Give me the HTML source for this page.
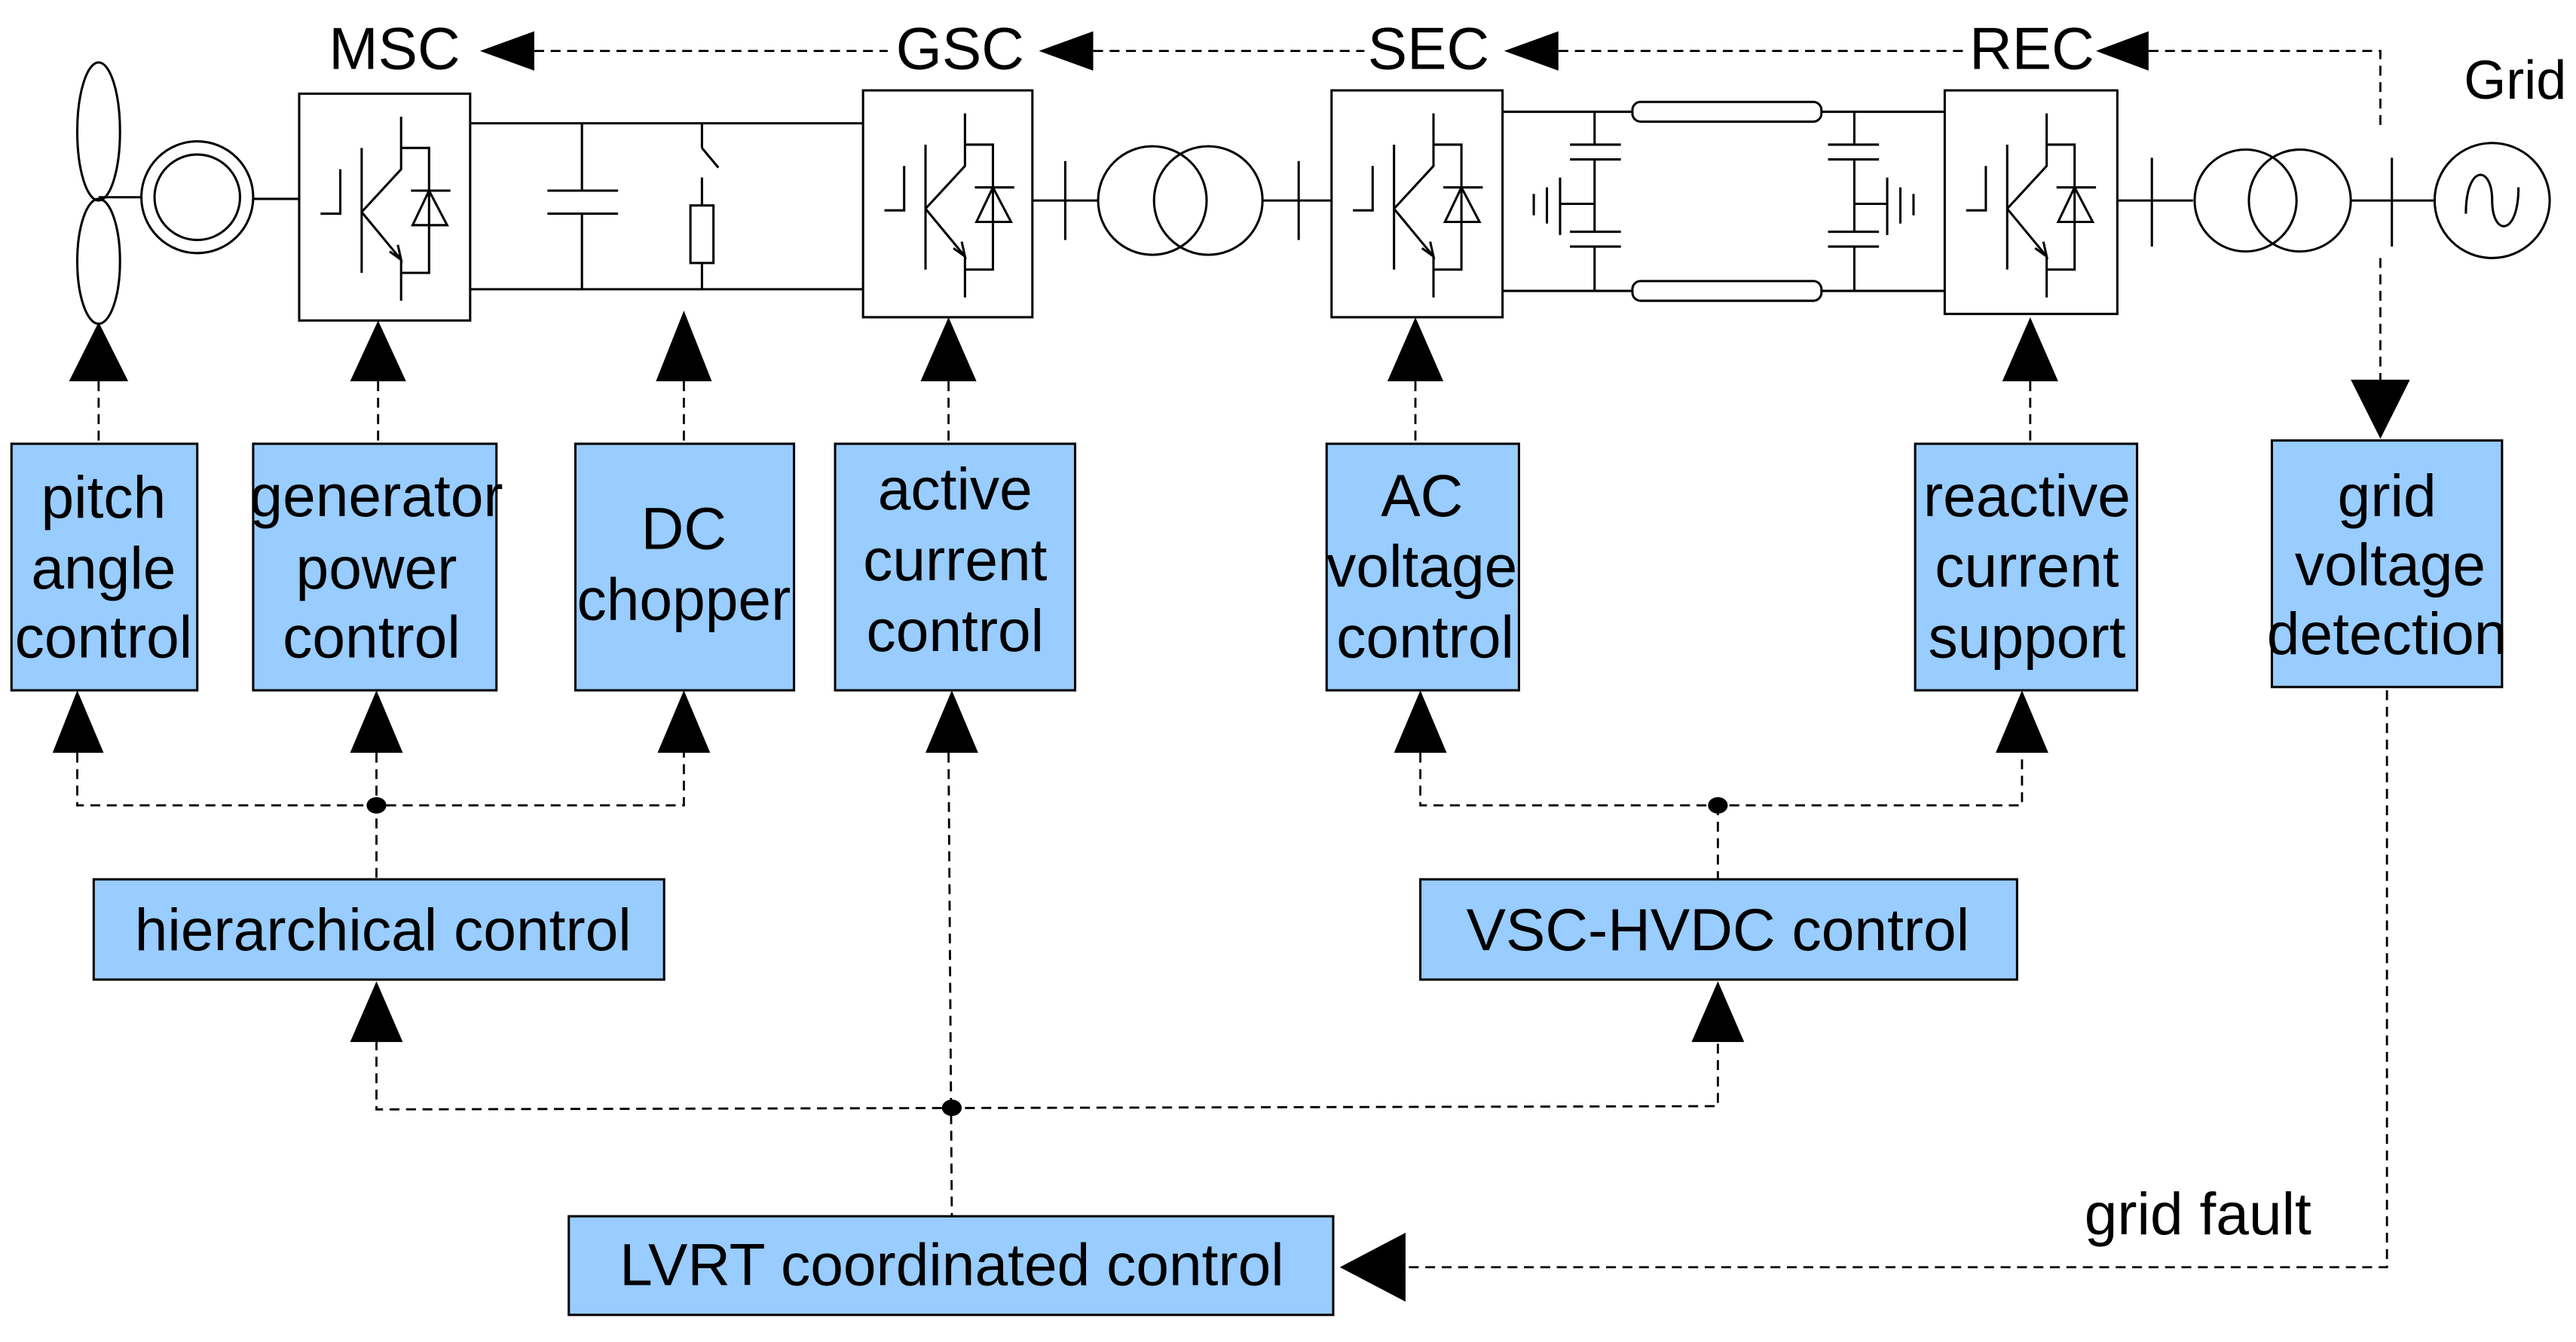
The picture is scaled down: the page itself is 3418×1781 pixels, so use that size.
<!DOCTYPE html>
<html><head><meta charset="utf-8"><style>
html,body{margin:0;padding:0;background:#fff;}
svg{display:block;}
text{font-family:"Liberation Sans",Arial,sans-serif;font-size:36px;fill:#000;text-anchor:middle;}
</style></head><body>
<svg width="3418" height="1781" viewBox="0 0 1567 816.5" preserveAspectRatio="none" xmlns="http://www.w3.org/2000/svg">
<defs>
<g id="igbt" fill="none" stroke="#000" stroke-width="1.4">
<!-- normalized 0..100 box coordinates via scale in use -->
</g>
</defs>
<g fill="none" stroke="#000" stroke-width="1.4">
<!-- blades -->
<ellipse cx="60" cy="80" rx="13" ry="42"/>
<ellipse cx="60" cy="159" rx="13" ry="38"/>
<line x1="60" y1="120" x2="86" y2="120"/>
<!-- generator -->
<circle cx="120" cy="120" r="34"/>
<circle cx="120" cy="120" r="26"/>
<line x1="154" y1="121" x2="182" y2="121"/>
<!-- converter boxes -->
<rect x="182" y="57" width="104" height="138"/>
<rect x="525" y="55" width="103" height="138"/>
<rect x="810" y="55" width="104" height="138"/>
<rect x="1183" y="55" width="105" height="136"/>
<!-- DC link -->
<line x1="286" y1="75" x2="525" y2="75"/>
<line x1="286" y1="176" x2="525" y2="176"/>
<line x1="354" y1="75" x2="354" y2="116"/>
<line x1="354" y1="130" x2="354" y2="176"/>
<line x1="333" y1="116" x2="376" y2="116"/>
<line x1="333" y1="130" x2="376" y2="130"/>
<line x1="427" y1="75" x2="427" y2="90"/>
<line x1="427" y1="90" x2="437" y2="102"/>
<line x1="427" y1="108" x2="427" y2="125"/>
<rect x="420" y="125" width="14" height="35"/>
<line x1="427" y1="160" x2="427" y2="176"/>
<!-- GSC to SEC -->
<line x1="628" y1="122" x2="668" y2="122"/>
<line x1="648" y1="98" x2="648" y2="146"/>
<circle cx="701" cy="122" r="33"/>
<circle cx="735" cy="122" r="33"/>
<line x1="768" y1="122" x2="810" y2="122"/>
<line x1="790" y1="98" x2="790" y2="146"/>
<!-- HVDC -->
<line x1="914" y1="68" x2="993" y2="68"/>
<line x1="914" y1="177" x2="993" y2="177"/>
<rect x="993" y="62" width="115" height="12" rx="5"/>
<rect x="993" y="171" width="115" height="12" rx="5"/>
<line x1="1108" y1="68" x2="1183" y2="68"/>
<line x1="1108" y1="177" x2="1183" y2="177"/>
<line x1="970" y1="68" x2="970" y2="88"/>
<line x1="970" y1="97" x2="970" y2="141"/>
<line x1="970" y1="150" x2="970" y2="177"/>
<line x1="955" y1="88" x2="986" y2="88"/>
<line x1="955" y1="97" x2="986" y2="97"/>
<line x1="955" y1="141" x2="986" y2="141"/>
<line x1="955" y1="150" x2="986" y2="150"/>
<line x1="949" y1="124" x2="970" y2="124"/>
<line x1="949" y1="108" x2="949" y2="143"/>
<line x1="941" y1="114" x2="941" y2="136"/>
<line x1="933" y1="118" x2="933" y2="131"/>
<line x1="1128" y1="68" x2="1128" y2="88"/>
<line x1="1128" y1="97" x2="1128" y2="141"/>
<line x1="1128" y1="150" x2="1128" y2="177"/>
<line x1="1112" y1="88" x2="1143" y2="88"/>
<line x1="1112" y1="97" x2="1143" y2="97"/>
<line x1="1112" y1="141" x2="1143" y2="141"/>
<line x1="1112" y1="150" x2="1143" y2="150"/>
<line x1="1128" y1="124" x2="1148" y2="124"/>
<line x1="1148" y1="108" x2="1148" y2="143"/>
<line x1="1156" y1="114" x2="1156" y2="136"/>
<line x1="1164" y1="118" x2="1164" y2="131"/>
<!-- REC to grid -->
<line x1="1288" y1="122" x2="1334" y2="122"/>
<line x1="1309" y1="96" x2="1309" y2="150"/>
<circle cx="1366" cy="122" r="31"/>
<circle cx="1399" cy="122" r="31"/>
<line x1="1430" y1="122" x2="1481" y2="122"/>
<line x1="1455" y1="96" x2="1455" y2="150"/>
<circle cx="1516" cy="122" r="35"/>
<path d="M1500 130 C1500 100 1516 100 1516 122 C1516 144 1532 144 1532 114"/>
</g>
<!-- IGBT symbols -->
<g fill="none" stroke="#000" stroke-width="1.4">
<g id="ig" transform="translate(182,57)">
<path d="M13 73 H25 V46 M38 33 V109 M38 72 L62 46 V14 M38 72 L62 101 V126 M62 33 H79 V109 H62 M69 80 H90 L79 59 Z M68 59 H92 M55 96 L62 101 L60 92"/>
</g>
<use href="#ig" transform="translate(343,-2)"/>
<use href="#ig" transform="translate(628,-2)"/>
<use href="#ig" transform="translate(1001,-2)"/>
</g>
<!-- top labels -->
<text x="240" y="42">MSC</text>
<text x="584" y="42">GSC</text>
<text x="869" y="42">SEC</text>
<text x="1236" y="42">REC</text>
<text x="1530" y="60" style="font-size:33px">Grid</text>
<g fill="none" stroke="#000" stroke-width="1.3" stroke-dasharray="6,4">
<line x1="325" y1="31" x2="540" y2="31"/>
<line x1="665" y1="31" x2="830" y2="31"/>
<line x1="948" y1="31" x2="1196" y2="31"/>
<polyline points="1307,31 1448,31 1448,78"/>
<line x1="1448" y1="157" x2="1448" y2="232"/>
<!-- up to converters -->
<line x1="60" y1="232" x2="60" y2="270"/>
<line x1="230" y1="232" x2="230" y2="270"/>
<line x1="416" y1="232" x2="416" y2="270"/>
<line x1="577" y1="232" x2="577" y2="270"/>
<line x1="861" y1="232" x2="861" y2="270"/>
<line x1="1235" y1="232" x2="1235" y2="270"/>
<!-- lower -->
<polyline points="47,458 47,490 416,490 416,458"/>
<line x1="229" y1="458" x2="229" y2="535"/>
<polyline points="864,458 864,490 1230,490 1230,458"/>
<line x1="1045" y1="490" x2="1045" y2="535"/>
<line x1="577" y1="458" x2="579" y2="740"/>
<polyline points="229,633 229,675 1045,673 1045,633"/>
<polyline points="1452,420 1452,771 855,771"/>
</g>
<g fill="#000">
<polygon points="292,31 325,19 325,43"/>
<polygon points="632,31 665,19 665,43"/>
<polygon points="915,31 948,19 948,43"/>
<polygon points="1275,31 1307,19 1307,43"/>
<polygon points="1448,267 1430,231 1466,231"/>
<polygon points="60,196 42,232 78,232"/>
<polygon points="230,195 213,232 247,232"/>
<polygon points="416,189 399,232 433,232"/>
<polygon points="577,193 560,232 594,232"/>
<polygon points="861,193 844,232 878,232"/>
<polygon points="1235,193 1218,232 1252,232"/>
<polygon points="47,420 32,458 63,458"/>
<polygon points="229,420 213,458 245,458"/>
<polygon points="416,420 400,458 432,458"/>
<polygon points="579,420 563,458 595,458"/>
<polygon points="864,420 848,458 880,458"/>
<polygon points="1230,420 1214,458 1246,458"/>
<polygon points="229,597 213,634 245,634"/>
<polygon points="1045,597 1029,634 1061,634"/>
<polygon points="815,771 855,750 855,792"/>
<ellipse cx="229" cy="490" rx="6" ry="5"/>
<ellipse cx="1045" cy="490" rx="6" ry="5"/>
<ellipse cx="579" cy="674" rx="6" ry="5"/>
</g>
<!-- blue boxes -->
<g fill="#99ccff" stroke="#000" stroke-width="1.4">
<rect x="7" y="270" width="113" height="150"/>
<rect x="154" y="270" width="148" height="150"/>
<rect x="350" y="270" width="133" height="150"/>
<rect x="508" y="270" width="146" height="150"/>
<rect x="807" y="270" width="117" height="150"/>
<rect x="1165" y="270" width="135" height="150"/>
<rect x="1382" y="268" width="140" height="150"/>
<rect x="57" y="535" width="347" height="61"/>
<rect x="864" y="535" width="363" height="61"/>
<rect x="346" y="740" width="465" height="60"/>
</g>
<text x="63" y="315">pitch</text><text x="63" y="358">angle</text><text x="63" y="400">control</text>
<text x="229" y="314">generator</text><text x="229" y="358">power</text><text x="226" y="400">control</text>
<text x="416" y="334">DC</text><text x="416" y="377">chopper</text>
<text x="581" y="310">active</text><text x="581" y="353">current</text><text x="581" y="396">control</text>
<text x="865" y="314">AC</text><text x="865" y="357">voltage</text><text x="867" y="400">control</text>
<text x="1233" y="314">reactive</text><text x="1233" y="357">current</text><text x="1233" y="400">support</text>
<text x="1452" y="314">grid</text><text x="1454" y="356">voltage</text><text x="1452" y="398">detection</text>
<text x="233" y="578">hierarchical control</text>
<text x="1045" y="578">VSC-HVDC control</text>
<text x="579" y="782">LVRT coordinated control</text>
<text x="1337" y="751">grid fault</text>
</svg>
</body></html>
